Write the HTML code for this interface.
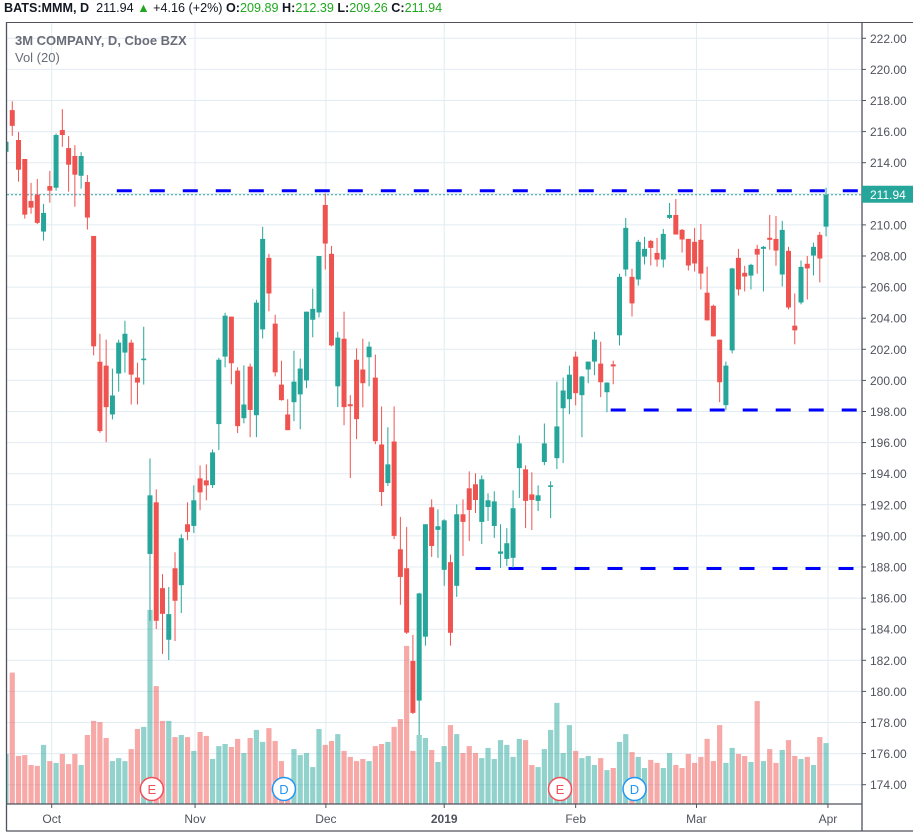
<!DOCTYPE html>
<html><head><meta charset="utf-8">
<style>
body{margin:0;background:#fff;width:920px;height:838px;overflow:hidden;font-family:"Liberation Sans",sans-serif;}
#hdr{position:absolute;left:4px;top:1px;font-size:12.6px;color:#131722;white-space:nowrap;}
#hdr b{font-weight:bold}
.g{color:#1fa81f}
svg{position:absolute;left:0;top:0}
</style></head><body>
<div id="hdr"><b>BATS:MMM, D</b>&nbsp; 211.94 <span class="g">&#9650;</span> +4.16 (+2%) <b>O:</b><span class="g">209.89</span> <b>H:</b><span class="g">212.39</span> <b>L:</b><span class="g">209.26</span> <b>C:</b><span class="g">211.94</span></div>
<svg id="chart" width="920" height="838"></svg>
<script>
const opens=[214.7,217.38,215.46,214.24,211.54,211.95,209.57,212.5,212.39,216.1,214.94,214.43,213.16,212.76,209.29,201.2,200.95,197.81,200.44,201.79,202.43,200.18,201.3,188.84,192.16,186.64,183.32,187.92,186.83,190.75,190.64,193.70,193.57,193.27,197.19,201.53,204.1,200.63,197.57,200.89,197.76,203.28,207.88,203.65,199.73,197.81,198.6,199.1,200.0,203.9,204.37,211.28,208.14,199.62,202.68,198.47,201.33,200.70,201.49,200.18,195.88,193.4,196.07,189.14,187.92,181.96,179.41,183.52,191.84,190.39,187.82,188.31,186.79,191.39,193.06,193.32,190.9,191.86,190.64,188.85,188.52,188.59,194.36,194.28,192.67,192.25,194.75,193.15,195.0,198.21,198.79,201.53,199.05,200.7,201.21,201.08,199.24,201.03,202.9,207.13,206.66,206.49,207.96,208.97,208.2,207.77,210.45,210.64,209.68,209.1,208.91,209.04,205.64,204.8,202.62,198.41,201.93,207.88,206.92,206.74,208.46,208.46,209.17,209.1,206.81,208.33,203.52,205.01,207.5,208.03,209.36,209.89];
const highs=[215.5,217.95,215.97,214.24,212.7,212.95,211.35,213.47,215.88,217.44,215.71,215.13,214.68,213.21,209.29,203.0,202.62,200.76,202.62,203.84,202.62,201.14,203.45,194.98,192.99,187.54,186.71,188.95,190.11,192.16,193.25,194.53,194.60,195.56,201.46,204.35,204.1,200.84,200.97,201.08,205.19,209.87,208.14,204.22,201.27,198.79,201.91,201.4,204.42,205.9,208.0,212.03,208.65,203.13,204.42,199.05,202.06,202.68,202.49,201.66,198.32,196.99,198.32,191.22,190.58,183.63,186.34,190.75,192.35,191.71,191.07,188.8,192.03,192.35,194.15,194.02,193.89,192.74,192.87,190.75,190.5,192.93,196.46,194.53,194.09,193.25,197.23,193.51,199.92,200.18,200.95,201.85,200.29,201.21,203.13,202.49,199.88,201.27,206.86,210.45,207.18,209.04,209.23,209.04,209.17,209.74,211.41,211.67,209.74,209.1,209.81,210.06,207.32,204.87,202.62,201.21,207.24,208.46,207.37,207.5,208.72,208.65,210.64,210.58,210.26,208.59,205.59,207.71,208.0,208.86,209.55,212.39];
const lows=[214.6,215.73,212.78,210.40,210.72,210.06,208.99,211.43,212.2,215.02,212.14,211.17,212.33,209.70,201.61,196.63,196.03,197.49,199.28,200.50,198.45,198.45,199.73,184.54,184.01,182.41,182.02,183.24,185.04,189.72,190.19,191.65,192.29,193.08,195.52,200.84,199.75,196.61,197.24,196.35,196.35,202.70,204.44,200.26,198.7,196.8,197.38,196.86,199.5,202.77,204.05,207.13,202.19,198.28,197.12,193.72,196.22,198.27,199.62,195.90,191.92,193.21,189.8,185.57,183.69,178.55,177.2,182.94,188.65,188.59,186.79,182.94,186.08,188.71,189.68,191.47,189.48,190.96,189.87,187.94,188.07,187.94,192.44,190.5,190.38,191.6,194.55,191.15,194.3,194.68,197.83,198.4,196.35,199.82,200.33,198.92,197.96,199.75,202.25,206.69,204.11,206.1,207.45,207.39,207.32,207.26,210.38,209.38,208.22,207.07,207.0,205.85,203.86,202.83,198.6,198.08,201.74,205.46,205.72,205.85,206.86,205.72,208.4,207.37,206.04,204.56,202.32,204.89,205.2,206.75,206.3,209.26];
const closes=[215.35,216.37,213.55,210.66,211.11,210.13,210.77,212.2,215.78,215.78,213.87,213.23,214.43,210.47,202.19,196.74,198.28,199.03,202.43,203.0,200.37,199.86,201.4,192.61,184.54,184.99,184.97,185.83,189.85,190.26,192.29,192.80,193.25,195.37,201.33,204.16,201.1,197.06,198.45,198.1,205.0,209.10,205.59,200.52,198.73,196.8,199.92,200.76,204.42,204.6,208.0,208.8,202.25,202.75,198.28,198.34,197.51,199.82,202.17,196.09,192.82,194.6,190.0,187.36,183.78,178.62,186.3,190.75,189.35,190.62,191.0,183.77,191.39,190.9,191.67,192.31,193.64,192.29,192.22,189.0,189.53,191.78,195.95,192.25,192.31,192.61,195.95,193.25,197.04,199.35,200.37,199.18,200.25,201.21,202.62,199.88,199.86,200.9,206.66,209.81,204.95,208.91,208.46,208.52,207.77,209.42,210.64,209.38,209.06,207.39,207.52,206.87,203.86,202.83,199.88,200.95,207.2,205.85,206.68,207.43,208.09,208.59,209.04,208.35,209.68,204.69,203.22,207.3,207.2,208.59,207.84,211.94];
const volumes=[1.67,4.38,1.6,1.63,1.3,1.27,1.97,1.43,1.37,1.67,1.33,1.67,1.3,2.3,2.77,2.73,2.2,1.43,1.53,1.43,1.83,2.5,2.57,6.47,3.93,2.77,2.77,2.23,2.3,2.23,1.77,2.4,2.27,1.5,1.93,2.0,1.9,2.17,1.7,2.2,2.47,2.07,2.53,2.1,1.43,0.8,1.83,1.63,1.7,1.23,2.5,1.97,2.1,2.33,1.77,1.57,1.43,1.5,1.43,1.93,2.0,2.07,2.57,2.83,5.27,1.77,2.3,2.2,1.8,1.4,1.93,2.63,2.33,1.7,1.93,1.7,1.53,1.87,1.5,2.13,1.97,1.57,2.17,2.13,1.3,1.23,1.83,2.47,3.37,1.7,2.63,1.77,1.53,1.6,1.3,1.53,1.13,1.2,2.07,2.33,1.73,1.57,1.2,1.47,1.37,1.2,1.7,1.3,1.2,1.67,1.37,1.57,2.17,1.43,2.63,1.37,1.87,1.67,1.6,1.4,3.43,1.43,1.83,1.37,1.8,2.13,1.6,1.5,1.57,1.3,2.23,2.03];
const priceTicks=[222,220,218,216,214,212,210,208,206,204,202,200,198,196,194,192,190,188,186,184,182,180,178,176,174];
const monthLabels=["Oct","Nov","Dec","2019","Feb","Mar","Apr"];
const monthIdx=[7.3,30.2,51.1,70,91,110.3,131.3];
const levelPrices=[212.2,198.1,187.9];
const levelStartIdx=[17.7,96.6,75];
const eventLabels=["E","D","E","D"];
const eventIdx=[23.3,44.4,88.5,100.4];
const lastPrice=211.94;

const NS="http://www.w3.org/2000/svg";
const svg=document.getElementById('chart');
const L=7,R=862,T=23,B=804;
const xOf=i=>6+i*6.26;
const yOf=p=>38.3+(222-p)*15.55;
const vOf=v=>B-v*30;
function mk(tag,at,parent){const e=document.createElementNS(NS,tag);for(const k in at)e.setAttribute(k,at[k]);(parent||svg).appendChild(e);return e;}

const grid=mk('g',{});


priceTicks.forEach(p=>{const l=mk('line',{x1:L,x2:R,y1:yOf(p),y2:yOf(p),stroke:'#e1ecf2','stroke-width':1},grid);});
monthIdx.forEach(i=>{const l=mk('line',{x1:xOf(i),x2:xOf(i),y1:T,y2:B,stroke:'#e1ecf2','stroke-width':1},grid);});

const clip=mk('clipPath',{id:'pc'});mk('rect',{x:L,y:T,width:R-L,height:B-T},clip);
const plot=mk('g',{'clip-path':'url(#pc)'});



volumes.forEach((v,i)=>{const up=closes[i]>=opens[i];const r=mk('rect',{x:xOf(i)-2.6,y:vOf(v),width:5.2,height:v*30,fill:up?'rgba(38,166,154,0.5)':'rgba(239,83,80,0.5)'},plot);

});

mk('line',{x1:L,x2:R,y1:yOf(lastPrice),y2:yOf(lastPrice),stroke:'#26a69a','stroke-width':1,'stroke-dasharray':'2,2'},plot);

levelPrices.forEach((p,k)=>{const l=mk('line',{x1:xOf(levelStartIdx[k]),x2:R-2,y1:yOf(p),y2:yOf(p),stroke:'#0000ff','stroke-width':3,'stroke-dasharray':'15,18'},plot);

});

opens.forEach((o,i)=>{const c=closes[i],up=c>=o,col=up?'#26a69a':'#ef5350',x=xOf(i);
const g=mk('g',{},plot);


mk('line',{x1:x,x2:x,y1:yOf(highs[i]),y2:yOf(lows[i]),stroke:col,'stroke-width':1},g);
const t=yOf(Math.max(o,c)),b=yOf(Math.min(o,c));
mk('rect',{x:x-2.5,y:t,width:5,height:Math.max(1.5,b-t),fill:col},g);});

eventLabels.forEach((s,k)=>{const col=s==='E'?'#f0505a':'#2196f3';const g=mk('g',{});


mk('circle',{cx:xOf(eventIdx[k]),cy:789,r:11.5,fill:'#fff',stroke:col,'stroke-width':1.5},g);
const t=mk('text',{x:xOf(eventIdx[k]),y:794,'text-anchor':'middle','font-size':13,fill:col},g);t.textContent=s;});

mk('line',{x1:6.5,x2:6.5,y1:22,y2:831,stroke:'#50535e','stroke-width':1.3});
mk('line',{x1:6,x2:913,y1:22.5,y2:22.5,stroke:'#50535e','stroke-width':1});
mk('line',{x1:6,x2:R,y1:B,y2:B,stroke:'#50535e','stroke-width':1.3});
mk('line',{x1:6,x2:913,y1:831,y2:831,stroke:'#50535e','stroke-width':1.3});
mk('line',{x1:R,x2:R,y1:22,y2:831,stroke:'#50535e','stroke-width':1.3});

priceTicks.forEach(p=>{mk('line',{x1:R,x2:R+4,y1:yOf(p),y2:yOf(p),stroke:'#50535e'});
const t=mk('text',{x:870,y:yOf(p)+4.5,'font-size':12,fill:'#50535e'});t.textContent=p.toFixed(2);

});

monthLabels.forEach((m,k)=>{mk('line',{x1:xOf(monthIdx[k]),x2:xOf(monthIdx[k]),y1:B,y2:B+4,stroke:'#50535e'});
const t=mk('text',{x:xOf(monthIdx[k]),y:823,'text-anchor':'middle','font-size':12,fill:'#50535e','font-weight':m==='2019'?'bold':'normal'});t.textContent=m;

});

const pb=mk('g',{});


mk('rect',{x:R,y:yOf(lastPrice)-9,width:51,height:17,fill:'#26a69a'},pb);
const pt=mk('text',{x:870,y:yOf(lastPrice)+4.5,'font-size':12,fill:'#fff'},pb);pt.textContent=lastPrice.toFixed(2);

const t1=mk('text',{x:15,y:45,'font-size':13,'font-weight':'bold',fill:'#6a6d78'});t1.textContent='3M COMPANY, D, Cboe BZX';


const t2=mk('text',{x:15,y:62,'font-size':13,fill:'#6a6d78'});t2.textContent='Vol (20)';


</script>
</body></html>
